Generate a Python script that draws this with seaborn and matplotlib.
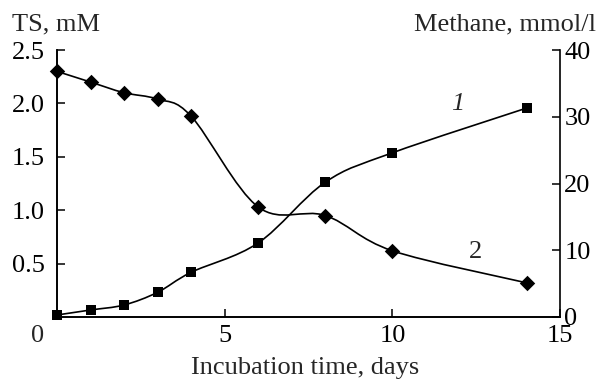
import numpy as np
import pandas as pd
import matplotlib
matplotlib.use("Agg")
import matplotlib.pyplot as plt
from matplotlib.path import Path
from matplotlib.patches import PathPatch
import seaborn as sns

days = [0, 1, 2, 3, 4, 6, 8, 10, 14]
ts_mM = [2.30, 2.20, 2.10, 2.04, 1.88, 1.03, 0.95, 0.62, 0.32]
methane = [0.3, 1.05, 1.8, 3.7, 6.7, 11.1, 20.2, 24.6, 31.3]
x_ticks = [5, 10, 15]
left_ticks = [0.5, 1.0, 1.5, 2.0, 2.5]
right_ticks = [0, 10, 20, 30, 40]

sns.set_theme(style="white")
plt.rcParams['font.family'] = ['Liberation Serif', 'DejaVu Serif']

FS = 19

fig = plt.figure(figsize=(5.99, 3.79), dpi=100)
ax = fig.add_axes([0.0952, 0.1636, 0.935 - 0.0952, 0.868 - 0.1636])
ax2 = ax.twinx()


def smooth_path(xs, ys):
    xs = np.asarray(xs, float)
    ys = np.asarray(ys, float)
    n = len(xs)
    verts = [(xs[0], ys[0])]
    codes = [Path.MOVETO]
    for i in range(n - 1):
        p0 = np.array([xs[max(i - 1, 0)], ys[max(i - 1, 0)]])
        p1 = np.array([xs[i], ys[i]])
        p2 = np.array([xs[i + 1], ys[i + 1]])
        p3 = np.array([xs[min(i + 2, n - 1)], ys[min(i + 2, n - 1)]])
        c1 = p1 + (p2 - p0) / 6.0
        c2 = p2 - (p3 - p1) / 6.0
        verts += [tuple(c1), tuple(c2), tuple(p2)]
        codes += [Path.CURVE4] * 3
    return Path(verts, codes)


df_ts = pd.DataFrame({"day": days, "ts": ts_mM})
df_m = pd.DataFrame({"day": days, "m": methane})

ax.add_patch(PathPatch(smooth_path(days, ts_mM), fill=False, lw=1.2, color="black", zorder=3))
ax2.add_patch(PathPatch(smooth_path(days, methane), fill=False, lw=1.2, color="black", zorder=3))

sns.scatterplot(data=df_ts, x="day", y="ts", ax=ax, marker="D", s=62, color="black",
                edgecolor="black", linewidth=0, zorder=4, clip_on=False)
sns.scatterplot(data=df_m, x="day", y="m", ax=ax2, marker="s", s=55, color="black",
                edgecolor="black", linewidth=0, zorder=4, clip_on=False)

ax.set_xlim(0, 15)
ax.set_ylim(0, 2.5)
ax2.set_ylim(0, 40)

ax.set_xticks(x_ticks)
ax.set_xticklabels([str(t) for t in x_ticks])
ax.set_yticks(left_ticks)
ax.set_yticklabels([f"{t:.1f}" for t in left_ticks])
ax2.set_yticks(right_ticks)
ax2.set_yticklabels([str(t) for t in right_ticks])

for a in (ax, ax2):
    a.set_xlabel("")
    a.set_ylabel("")
    a.spines['top'].set_visible(False)
    for s in ('left', 'right', 'bottom'):
        a.spines[s].set_linewidth(1.2)
        a.spines[s].set_color('black')
    a.set_facecolor('none')

ax.tick_params(axis='x', direction='in', length=6, width=1.1, color='black', pad=6,
               labelsize=FS, labelcolor='black', bottom=True)
ax.tick_params(axis='y', direction='in', length=6, width=1.1, color='black', pad=9,
               labelsize=FS, labelcolor='black', left=True)
ax2.tick_params(axis='y', direction='in', length=6, width=1.1, color='black', pad=3,
                labelsize=FS, labelcolor='black', right=True)
ax.spines['right'].set_visible(False)

ax.annotate("0", xy=(0, 0), xycoords='axes fraction', xytext=(-14, -6),
            textcoords='offset points', ha='center', va='top', fontsize=FS)

fig.text(0.02, 0.935, "TS, mM", ha='left', va='center', fontsize=FS)
fig.text(0.995, 0.935, "Methane, mmol/l", ha='right', va='center', fontsize=FS)
fig.text(0.51, 0.03, "Incubation time, days", ha='center', va='center', fontsize=FS)

ax.text(11.96, 1.99, "1", ha='center', va='center', fontsize=FS, style='italic')
ax.text(12.47, 0.61, "2", ha='center', va='center', fontsize=FS)

fig.savefig("out.png", dpi=100)
